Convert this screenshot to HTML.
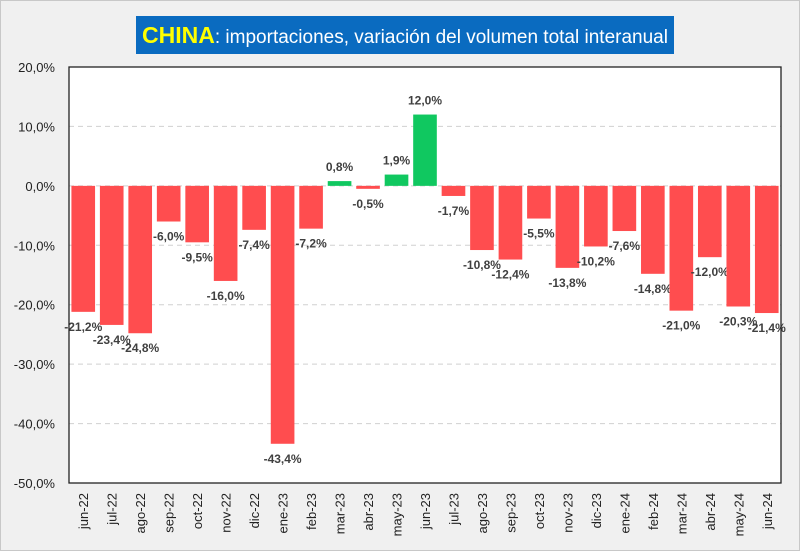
<!DOCTYPE html>
<html><head><meta charset="utf-8"><style>
html,body{margin:0;padding:0;background:#f0f0f0;}
#wrap{position:relative;width:800px;height:551px;background:#f0f0f0;font-family:"Liberation Sans",sans-serif;overflow:hidden;}
#title{position:absolute;left:136px;top:16px;width:538px;height:38px;background:#0a6bc0;color:#fff;font-size:19px;line-height:38px;text-align:center;white-space:nowrap;}
#title b{color:#ffff00;font-size:23px;}
</style></head><body>
<div id="wrap">
<div id="title"><b>CHINA</b>: importaciones, variación del volumen total interanual</div>
<svg id="chart" width="800" height="551" style="position:absolute;left:0;top:0"></svg>
</div>
<script>
const categories=["jun-22","jul-22","ago-22","sep-22","oct-22","nov-22","dic-22","ene-23","feb-23","mar-23","abr-23","may-23","jun-23","jul-23","ago-23","sep-23","oct-23","nov-23","dic-23","ene-24","feb-24","mar-24","abr-24","may-24","jun-24"];
const values=[-21.2,-23.4,-24.8,-6.0,-9.5,-16.0,-7.4,-43.4,-7.2,0.8,-0.5,1.9,12.0,-1.7,-10.8,-12.4,-5.5,-13.8,-10.2,-7.6,-14.8,-21.0,-12.0,-20.3,-21.4];
const yTicks=[20,10,0,-10,-20,-30,-40,-50];
const NS="http://www.w3.org/2000/svg";
const svg=document.getElementById('chart');
const L=69,R=781,T=67,B=483,yMax=20,yMin=-50;
function y(v){return T+(yMax-v)/(yMax-yMin)*(B-T);}
const bw=(R-L)/categories.length;
function x(i){return L+bw*(i+0.5);}
function fmt(v){return v.toFixed(1).replace('.',',')+'%';}
function mk(tag,attrs){const e=document.createElementNS(NS,tag);for(const k in attrs)e.setAttribute(k,attrs[k]);svg.appendChild(e);return e;}
const bg=mk('rect',{x:L,y:T,width:R-L,height:B-T,fill:'#fff'});


yTicks.forEach(t=>{
  if(t!==yMax&&t!==yMin){const g=mk('line',{x1:L,x2:R,y1:y(t),y2:y(t),stroke:'#d0d0d0','stroke-dasharray':'5,4'});
  
  }
  const tx=mk('text',{x:L-14,y:y(t)+5,'text-anchor':'end','font-size':'13',fill:'#222'});
  tx.textContent=fmt(t);
  
  
});
values.forEach((v,i)=>{
  const w=bw*0.83,top=Math.min(y(v),y(0)),h=Math.abs(y(v)-y(0));
  const r=mk('rect',{x:x(i)-w/2,y:top,width:w,height:h,fill:v>=0?'#10c860':'#ff4d4f'});
  
  
  const ly=v>=0?y(v)-10:y(v)+19;
  const lb=mk('text',{x:x(i),y:ly,'text-anchor':'middle','font-size':'12','font-weight':'bold',fill:'#404040'});
  lb.textContent=fmt(v);
  
  
  const cl=mk('text',{x:0,y:0,'text-anchor':'end','font-size':'13',fill:'#222',transform:`translate(${x(i)+5},${B+10}) rotate(-90)`});
  cl.textContent=categories[i];
  
  
});
const border=mk('rect',{x:L,y:T,width:R-L,height:B-T,fill:'none',stroke:'#222','stroke-width':'1.3'});


const outer=mk('rect',{x:0.5,y:0.5,width:799,height:550,fill:'none',stroke:'#c8c8c8'});


</script>
</body></html>
